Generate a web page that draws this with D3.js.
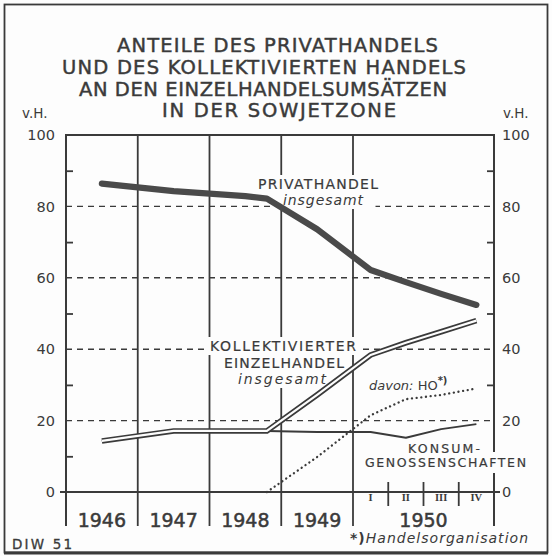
<!DOCTYPE html>
<html><head><meta charset="utf-8">
<script src="https://cdn.jsdelivr.net/npm/d3@7"></script>
<style>
html,body{margin:0;padding:0;background:#fdfdfd;}
svg{display:block;}
</style></head><body>
<svg id="c" width="552" height="556"></svg>
<script>
// ---------- data ----------
const titleLines = ["ANTEILE DES PRIVATHANDELS","UND DES KOLLEKTIVIERTEN HANDELS","AN DEN EINZELHANDELSUMSÄTZEN","IN DER SOWJETZONE"];
const years = ["1946","1947","1948","1949","1950"];
const quarters = ["I","II","III","IV"];
const yTicks = [0,20,40,60,80,100];
const yMinorTicks = [10,30,50,70,90];
const gridValues = [20,40,60,80];
const pointTimes = [1946.5,1947.5,1948.5,1948.8,1949.5,1950.125,1950.375,1950.625,1950.875];
const privathandel = [86.4,84.3,82.9,82.2,73.6,62.2,58.8,55.5,52.4];
const kollektiv    = [14.3,17.1,17.1,17.1,27.2,38.4,41.8,44.9,48.0];
const konsum       = [14.3,17.1,17.1,17.1,16.8,16.8,15.2,17.6,19.0];
const ho           = [null,null,null,0,9.8,21.5,26.0,27.2,29.0];

// ---------- setup ----------
const ink = "#3a3a3a";
const font = "DejaVu Sans";
const svg = d3.select("#c");
svg.append("rect").attr("width",552).attr("height",556).attr("fill","#fdfdfd");

const x = d3.scaleLinear().domain([1946,1950,1951]).range([66,353,494]);
const y = d3.scaleLinear().domain([0,100]).range([492,135]);

// frame
svg.append("rect").attr("x",4.5).attr("y",4.5).attr("width",543).attr("height",548)
  .attr("fill","none").attr("stroke",ink).attr("stroke-width",1.8);
svg.append("line").attr("x1",4).attr("x2",548).attr("y1",553).attr("y2",553)
  .attr("stroke",ink).attr("stroke-width",3);

// title
const titleLayout = [{x:117,y:51.5,w:321},{x:62,y:74,w:404},{x:79,y:95.5,w:368},{x:162,y:116.5,w:234}];
svg.append("g").selectAll("text").data(titleLines).join("text")
  .attr("x",(d,i)=>titleLayout[i].x).attr("y",(d,i)=>titleLayout[i].y)
  .attr("textLength",(d,i)=>titleLayout[i].w).attr("lengthAdjust","spacing")
  .attr("font-family",font).attr("font-size",19.5).attr("fill",ink)
  .attr("stroke",ink).attr("stroke-width",0.45).text(d=>d);

svg.append("text").attr("x",22).attr("y",118).attr("font-family",font).attr("font-size",13.5).attr("fill",ink).text("v.H.");
svg.append("text").attr("x",503).attr("y",118).attr("font-family",font).attr("font-size",13.5).attr("fill",ink).text("v.H.");

// gridlines
const gGrid = svg.append("g");
gGrid.selectAll("line").data(gridValues).join("line")
  .attr("x1",x(1946)).attr("x2",x(1951)).attr("y1",d=>y(d)).attr("y2",d=>y(d))
  .attr("stroke",ink).attr("stroke-width",1.4).attr("stroke-dasharray","6,5");

// year dividers
const dividers = [1947,1948,1949,1950];
svg.append("g").selectAll("line").data(dividers).join("line")
  .attr("x1",d=>x(d)).attr("x2",d=>x(d)).attr("y1",y(100)).attr("y2",526)
  .attr("stroke",ink).attr("stroke-width",1.8);
// quarter ticks
svg.append("g").selectAll("line").data([1950.25,1950.5,1950.75]).join("line")
  .attr("x1",d=>x(d)).attr("x2",d=>x(d)).attr("y1",482).attr("y2",506)
  .attr("stroke",ink).attr("stroke-width",1.8);

// axes frame lines
svg.append("line").attr("x1",x(1946)).attr("x2",x(1946)).attr("y1",y(100)).attr("y2",526).attr("stroke",ink).attr("stroke-width",2);
svg.append("line").attr("x1",x(1951)).attr("x2",x(1951)).attr("y1",y(100)).attr("y2",526).attr("stroke",ink).attr("stroke-width",2);
svg.append("line").attr("x1",x(1946)-1).attr("x2",x(1951)+1).attr("y1",y(100)).attr("y2",y(100)).attr("stroke",ink).attr("stroke-width",1.8);
svg.append("line").attr("x1",x(1946)-6).attr("x2",x(1951)+6).attr("y1",y(0)).attr("y2",y(0)).attr("stroke",ink).attr("stroke-width",2);

// axis labels
function styleAxis(g){
  g.select(".domain").remove();
  g.selectAll("text").attr("font-family",font).attr("font-size",14.5).attr("fill",ink);
  g.selectAll("line").attr("stroke",ink).attr("stroke-width",1.8);
}
svg.append("g").attr("transform",`translate(${x(1946)},0)`)
  .call(d3.axisLeft(y).tickValues(yTicks).tickSize(0).tickPadding(11)).call(styleAxis);
svg.append("g").attr("transform",`translate(${x(1951)},0)`)
  .call(d3.axisRight(y).tickValues(yTicks).tickSize(0).tickPadding(8)).call(styleAxis);
svg.append("g").attr("transform",`translate(${x(1946)},0)`)
  .call(d3.axisLeft(y).tickValues(yMinorTicks).tickSize(-7).tickFormat("")).call(styleAxis);
svg.append("g").attr("transform",`translate(${x(1951)},0)`)
  .call(d3.axisRight(y).tickValues(yMinorTicks).tickSize(-7).tickFormat("")).call(styleAxis);

// year + quarter labels
svg.append("g").selectAll("text").data(years).join("text")
  .attr("x",d=>x(+d+0.5)).attr("y",527)
  .attr("text-anchor","middle").attr("font-family",font).attr("font-size",19).attr("fill",ink)
  .attr("stroke",ink).attr("stroke-width",0.5).text(d=>d);
svg.append("g").selectAll("text").data(quarters).join("text")
  .attr("x",(d,i)=>x(1950+(i+0.5)/4)).attr("y",501)
  .attr("text-anchor","middle").attr("font-family","Liberation Serif").attr("font-weight","bold")
  .attr("font-size",10.5).attr("fill",ink).text(d=>d);

// labels (with masks)
const maskLayer = svg.append("g");
const lineLayer = svg.append("g");
const labelLayer = svg.append("g");

function label(txt, lx, ly, opts={}){
  const t = labelLayer.append("text").attr("x",lx).attr("y",ly)
    .attr("font-family",font).attr("font-size",opts.size||14).attr("fill",ink)
    .attr("font-style",opts.italic?"italic":"normal");
  if(opts.len) t.attr("textLength",opts.len).attr("lengthAdjust","spacing");
  if(opts.bold) t.attr("stroke",ink).attr("stroke-width",opts.bold);
  t.text(txt);
  if(opts.mask!==false){
    const b = t.node().getBBox();
    const px = opts.padx!=null?opts.padx:2, py = opts.pady!=null?opts.pady:1;
    maskLayer.append("rect").attr("x",b.x-px).attr("y",b.y-py).attr("width",b.width+2*px).attr("height",b.height+2*py).attr("fill","#fdfdfd");
  }
  return t;
}
label("PRIVATHANDEL",258,189,{len:120,size:14,bold:0.2});
label("insgesamt",283,205,{len:80,size:14,italic:true,padx:12});
label("KOLLEKTIVIERTER",210,351,{len:146,size:14,padx:3,bold:0.2});
label("EINZELHANDEL",224,368,{len:120,size:14,bold:0.2});
label("insgesamt",238,384,{len:88,size:14,italic:true});
label("KONSUM-",408,453,{len:72,size:12.5,pady:3,bold:0.2});
label("GENOSSENSCHAFTEN",365,467,{len:161,size:12.5,pady:3,bold:0.2});
label("DIW 51",12,549,{len:60,size:13.5,mask:false,bold:0.3});

// davon: HO*)
const dv = labelLayer.append("text").attr("x",369).attr("y",390).attr("font-family",font).attr("font-size",13).attr("fill",ink);
dv.append("tspan").attr("font-style","italic").text("davon: ");
dv.append("tspan").text("HO");
dv.append("tspan").attr("dy",-6).attr("font-size",10).attr("font-weight","bold").text("*)");

// footnote
const fn = labelLayer.append("text").attr("x",350).attr("y",543).attr("font-family",font).attr("font-size",14).attr("fill",ink)
  .attr("textLength",178).attr("lengthAdjust","spacing");
fn.append("tspan").attr("font-weight","bold").text("*)");
fn.append("tspan").attr("font-style","italic").text("Handelsorganisation");

// ---------- data lines ----------
function mk(vals){ return pointTimes.map((t,i)=>({t, v: vals[i]})); }
const line = d3.line().defined(d=>d.v!=null).x(d=>x(d.t)).y(d=>y(d.v));

lineLayer.append("path").attr("d",line(mk(konsum))).attr("fill","none")
  .attr("stroke",ink).attr("stroke-width",1.9).attr("stroke-linejoin","round");
lineLayer.append("path").attr("d",line(mk(kollektiv))).attr("fill","none")
  .attr("stroke",ink).attr("stroke-width",5.6).attr("stroke-linejoin","miter");
lineLayer.append("path").attr("d",line(mk(kollektiv))).attr("fill","none")
  .attr("stroke","#fdfdfd").attr("stroke-width",2.2).attr("stroke-linejoin","miter");
lineLayer.append("path").attr("d",line(mk(ho))).attr("fill","none")
  .attr("stroke",ink).attr("stroke-width",2.3).attr("stroke-linecap","round").attr("stroke-dasharray","0.1,4.6");
lineLayer.append("path").attr("d",line(mk(privathandel))).attr("fill","none")
  .attr("stroke","#4a4a4a").attr("stroke-width",6.2).attr("stroke-linecap","round").attr("stroke-linejoin","round");
</script>
</body></html>
